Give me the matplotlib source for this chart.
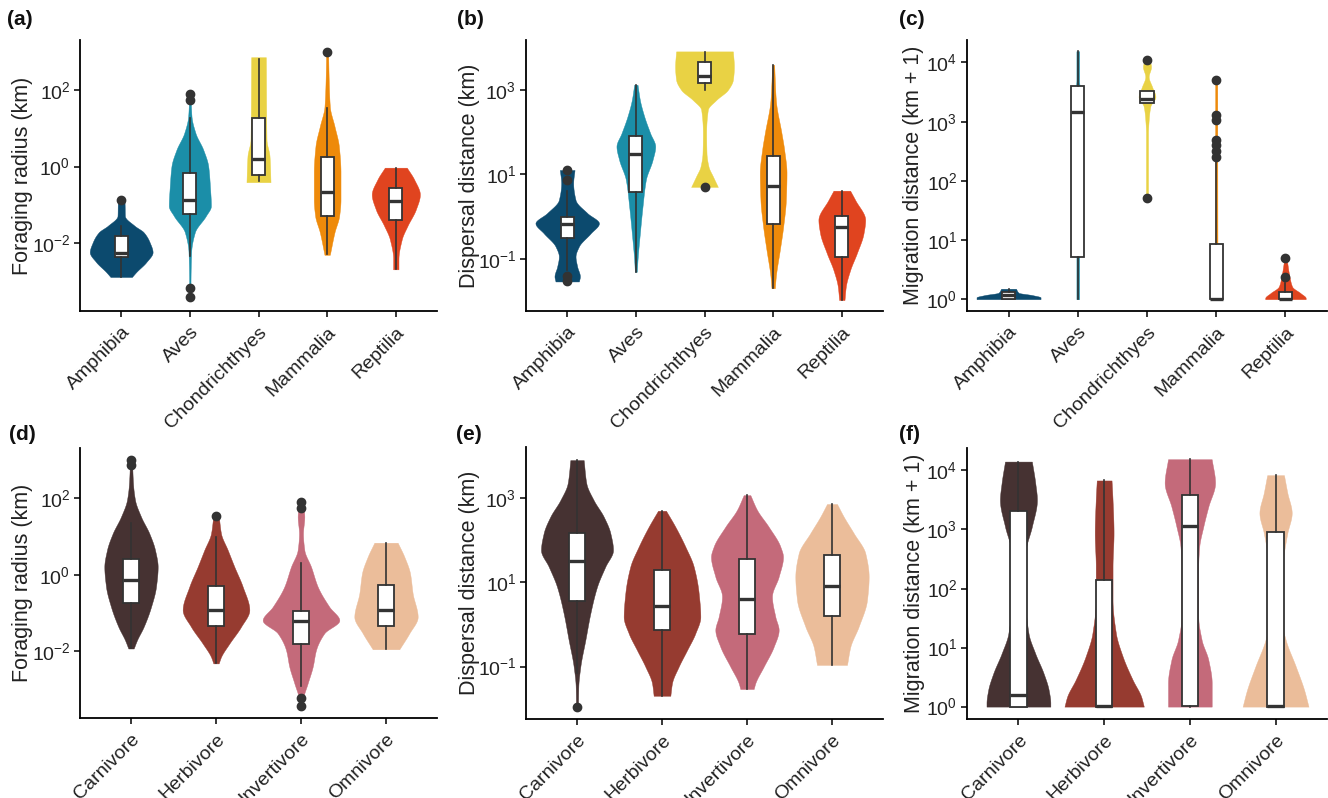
import numpy as np
import matplotlib
matplotlib.use("Agg")
import matplotlib.pyplot as plt

plt.rcParams['font.family'] = ['Liberation Sans', 'DejaVu Sans']
plt.rcParams['mathtext.fontset'] = 'custom'
plt.rcParams['mathtext.rm'] = 'Liberation Sans'
plt.rcParams['mathtext.it'] = 'Liberation Sans:italic'
plt.rcParams['mathtext.bf'] = 'Liberation Sans:bold'

# ---------------- data (all values in log10 units) ----------------
classes = ["Amphibia", "Aves", "Chondrichthyes", "Mammalia", "Reptilia"]
diets = ["Carnivore", "Herbivore", "Invertivore", "Omnivore"]

# (a) Foraging radius by class
fa_q1 = [-2.37, -1.23, -0.23, -1.29, -1.39]
fa_med = [-2.26, -0.88, 0.20, -0.67, -0.90]
fa_q3 = [-1.83, -0.16, 1.26, 0.25, -0.55]
fa_lo = [-2.89, -2.33, -0.38, -2.29, -2.68]
fa_hi = [-1.55, 1.27, 2.82, 1.53, -0.05]
fa_out = [[-0.88], [1.89, 1.74, -3.19, -3.41], [], [2.99], []]
fa_dens_y = [
    [-2.89, -2.76, -2.50, -2.24, -1.98, -1.72, -1.55, -1.29, -0.94, -0.86],
    [-3.41, -3.11, -2.24, -1.72, -1.29, -1.03, -0.51, 0.01, 0.44, 0.87, 1.31, 1.65, 1.89],
    [-0.41, 0.27, 0.70, 2.86],
    [-2.31, -1.72, -1.29, -0.86, -0.16, 0.53, 1.05, 1.57, 2.5, 2.99],
    [-2.69, -2.42, -1.90, -1.55, -1.12, -0.73, -0.34, -0.03],
]
fa_dens_w = [
    [32, 45, 75, 94, 85, 67, 40, 11, 10, 5],
    [2, 2, 4, 15, 48, 63, 60, 55, 40, 17, 5, 3, 2],
    [36, 33, 24, 22],
    [8, 22, 36, 40, 40, 35, 22, 8, 4, 3],
    [8, 8, 18, 35, 60, 72, 55, 33],
]

# (b) Dispersal distance by class
db_q1 = [-0.51, 0.57, 3.16, -0.18, -0.95]
db_med = [-0.18, 1.48, 3.33, 0.71, -0.25]
db_q3 = [-0.02, 1.91, 3.66, 1.44, 0.00]
db_lo = [-1.27, -1.31, 3.00, -1.69, -1.98]
db_hi = [0.60, 3.12, 3.89, 3.59, 0.61]
db_out = [[1.10, 0.87, -1.40, -1.52], [], [0.70], [], []]
db_dens_y = [
    [-1.54, -1.42, -1.19, -0.95, -0.71, -0.40, -0.16, 0.08, 0.39, 0.79, 1.10],
    [-1.31, -1.03, -0.40, 0.24, 0.87, 1.34, 1.66, 1.97, 2.37, 2.76, 3.12],
    [0.70, 0.95, 1.18, 1.50, 1.97, 2.53, 2.76, 3.00, 3.24, 3.55, 3.91],
    [-1.70, -1.42, -0.79, -0.24, 0.39, 1.03, 1.58, 1.97, 2.76, 3.59],
    [-1.98, -1.66, -1.27, -0.87, -0.40, -0.08, 0.39, 0.61],
]
db_dens_w = [
    [35, 38, 30, 25, 35, 70, 95, 60, 25, 18, 22],
    [3, 5, 12, 20, 30, 50, 58, 43, 25, 12, 5],
    [40, 25, 12, 6, 5, 10, 35, 70, 85, 88, 85],
    [5, 8, 20, 30, 38, 40, 33, 25, 8, 3],
    [8, 12, 25, 45, 65, 70, 40, 25],
]

# (c) Migration distance (km + 1) by class
mc_q1 = [0.01, 0.71, 3.32, 0.00, 0.00]
mc_med = [0.065, 3.17, 3.38, 0.00, 0.01]
mc_q3 = [0.12, 3.61, 3.51, 0.93, 0.115]
mc_lo = [0.00, 0.00, 3.32, 0.00, 0.00]
mc_hi = [0.18, 4.19, 3.51, 2.32, 0.28]
mc_out = [[], [], [4.05, 1.71], [3.70, 3.11, 3.03, 2.69, 2.61, 2.51, 2.41], [0.70, 0.37]]
mc_dens_y = [
    [0.0, 0.03, 0.069, 0.108, 0.176],
    [0.0, 3.30, 3.55, 3.70, 4.19],
    [1.68, 1.79, 2.80, 3.03, 3.26, 3.42, 3.59, 3.76, 3.93, 4.07],
    [0.0, 0.10, 0.30, 3.71],
    [0.0, 0.02, 0.10, 0.21, 0.38, 0.70],
]
mc_dens_w = [
    [95, 95, 70, 30, 22],
    [4, 4, 6, 4, 4],
    [4, 3, 3, 5, 10, 25, 15, 5, 12, 5],
    [15, 8, 4, 3],
    [60, 60, 45, 20, 12, 3],
]

# (d) Foraging radius by diet
fd_q1 = [-0.73, -1.34, -1.82, -1.34]
fd_med = [-0.14, -0.92, -1.21, -0.92]
fd_q3 = [0.41, -0.29, -0.94, -0.27]
fd_lo = [-1.93, -2.32, -2.90, -1.95]
fd_hi = [1.35, 0.98, 0.30, 0.84]
fd_out = [[3.00, 2.87], [1.54], [1.91, 1.76, -3.22, -3.44], []]
fd_dens_y = [
    [-1.93, -1.71, -1.36, -0.84, -0.31, 0.21, 0.65, 1.08, 1.52, 1.96, 2.39, 3.00],
    [-2.32, -2.15, -1.80, -1.36, -0.92, -0.31, 0.21, 0.65, 1.08, 1.56],
    [-3.44, -3.28, -2.84, -2.41, -1.97, -1.53, -1.19, -0.84, -0.31, 0.21, 0.65, 1.08, 1.52, 1.91],
    [-1.95, -1.53, -1.10, -0.49, 0.04, 0.47, 0.84],
]
fd_dens_w = [
    [8, 18, 38, 60, 75, 80, 72, 55, 30, 12, 6, 3],
    [8, 15, 40, 75, 100, 80, 55, 35, 15, 8],
    [3, 5, 20, 35, 45, 70, 115, 85, 50, 30, 10, 6, 10, 5],
    [40, 70, 95, 80, 72, 55, 35],
]

# (e) Dispersal distance by diet
de_q1 = [0.56, -0.13, -0.23, 0.20]
de_med = [1.49, 0.44, 0.60, 0.91]
de_q3 = [2.16, 1.29, 1.56, 1.64]
de_lo = [-1.16, -1.69, -1.53, -0.96]
de_hi = [3.89, 2.69, 3.06, 2.85]
de_out = [[-1.95], [], [], []]
de_dens_y = [
    [-1.95, -1.47, -1.00, -0.37, 0.26, 0.89, 1.37, 1.76, 2.16, 2.55, 2.94, 3.34, 3.89],
    [-1.69, -1.39, -1.00, -0.61, -0.21, 0.18, 0.74, 1.37, 1.84, 2.31, 2.69],
    [-1.53, -1.39, -1.00, -0.53, -0.13, 0.18, 0.66, 1.13, 1.60, 1.84, 2.31, 2.71, 3.06],
    [-0.96, -0.53, -0.05, 0.58, 1.13, 1.68, 2.16, 2.55, 2.85],
]
de_dens_w = [
    [3, 4, 10, 25, 40, 60, 85, 108, 100, 80, 50, 28, 20],
    [25, 30, 50, 75, 100, 115, 110, 95, 70, 40, 12],
    [20, 25, 50, 80, 95, 85, 75, 95, 108, 100, 65, 30, 10],
    [45, 55, 80, 105, 110, 100, 65, 35, 15],
]

# (f) Migration distance (km + 1) by diet
mf_q1 = [0.00, 0.00, 0.01, 0.00]
mf_med = [0.19, 0.01, 3.06, 0.01]
mf_q3 = [3.32, 2.15, 3.58, 2.95]
mf_lo = [0.00, 0.00, 0.00, 0.00]
mf_hi = [4.15, 3.83, 4.19, 3.92]
mf_out = [[], [], [], []]
mf_dens_y = [
    [0.0, 0.06, 0.28, 0.56, 0.90, 1.24, 1.81, 2.37, 2.66, 3.05, 3.50, 3.79, 4.15],
    [0.0, 0.17, 0.45, 0.85, 1.24, 1.81, 2.37, 2.94, 3.50, 3.83],
    [0.0, 0.40, 0.79, 1.13, 1.53, 2.37, 2.71, 3.05, 3.39, 3.79, 4.19],
    [0.0, 0.28, 0.68, 1.13, 1.53, 2.09, 2.49, 2.94, 3.28, 3.62, 3.92],
]
mf_dens_w = [
    [95, 95, 90, 75, 50, 30, 20, 18, 22, 40, 55, 50, 40],
    [118, 110, 85, 55, 35, 25, 25, 28, 25, 22],
    [65, 65, 55, 35, 25, 25, 28, 40, 55, 75, 65],
    [98, 85, 60, 30, 15, 15, 22, 35, 48, 35, 25],
]

# ---------------- styling ----------------
class_colors = ['#0c4a6e', '#1b8ea8', '#e9d244', '#ee8a0a', '#e0441f']
diet_colors = ['#463232', '#963b30', '#c46a7a', '#ebbd9a']
DARK = '#333333'
W, H = 1328, 798


def pchip(x, y, xn):
    x = np.asarray(x, float)
    y = np.asarray(y, float)
    h = np.diff(x)
    d = np.diff(y) / h
    m = np.zeros_like(y)
    m[0] = d[0]
    m[-1] = d[-1]
    for k in range(1, len(x) - 1):
        if d[k - 1] * d[k] <= 0:
            m[k] = 0.0
        else:
            w1 = 2 * h[k] + h[k - 1]
            w2 = h[k] + 2 * h[k - 1]
            m[k] = (w1 + w2) / (w1 / d[k - 1] + w2 / d[k])
    idx = np.clip(np.searchsorted(x, xn) - 1, 0, len(x) - 2)
    t = (xn - x[idx]) / h[idx]
    h00 = 2 * t**3 - 3 * t**2 + 1
    h10 = t**3 - 2 * t**2 + t
    h01 = -2 * t**3 + 3 * t**2
    h11 = t**3 - t**2
    return h00 * y[idx] + h10 * h[idx] * m[idx] + h01 * y[idx + 1] + h11 * h[idx] * m[idx + 1]


def px_axes(l, t, r, b):
    return fig.add_axes([l / W, 1 - b / H, (r - l) / W, (b - t) / H])


def draw_panel(ax, cats, colors, dens_y, dens_w, q1, med, q3, lo, hi, out,
               wscale, ylim, yticks, ylabel, xlim, label_x):
    n = len(cats)
    for i in range(n):
        yk = np.asarray(dens_y[i], float)
        wk = np.asarray(dens_w[i], float)
        yy = np.linspace(yk[0], yk[-1], 300)
        ww = np.clip(pchip(yk, wk, yy), 0.5, None) * wscale
        ax.fill_betweenx(10 ** yy, i - ww, i + ww, color=colors[i], lw=0.3,
                         edgecolor=colors[i], zorder=1)
    stats = []
    for i in range(n):
        stats.append(dict(med=10 ** med[i], q1=10 ** q1[i], q3=10 ** q3[i],
                          whislo=10 ** lo[i], whishi=10 ** hi[i],
                          fliers=10 ** np.asarray(out[i], float)))
    ax.bxp(stats, positions=list(range(n)), widths=0.19, patch_artist=True,
           showcaps=False, showfliers=True,
           boxprops=dict(facecolor='white', edgecolor=DARK, linewidth=1.3),
           medianprops=dict(color=DARK, linewidth=2.4, solid_capstyle='butt'),
           whiskerprops=dict(color=DARK, linewidth=1.2),
           flierprops=dict(marker='o', markerfacecolor=DARK, markeredgecolor=DARK,
                           markersize=6))
    ax.set_yscale('log')
    ax.set_ylim(10 ** ylim[0], 10 ** ylim[1])
    ax.set_xlim(*xlim)
    ax.set_yticks([10.0 ** k for k in yticks])
    ax.set_yticklabels([r'$10^{%d}$' % k for k in yticks])
    ax.yaxis.set_minor_locator(matplotlib.ticker.NullLocator())
    ax.set_xticks(list(range(n)))
    ax.set_xticklabels(cats, rotation=45, ha='right', rotation_mode='anchor')
    ax.tick_params(axis='both', labelsize=14, length=4, width=1.1, color='black',
                   labelcolor='#222222', pad=3)
    ax.tick_params(axis='x', pad=5)
    for s in ['top', 'right']:
        ax.spines[s].set_visible(False)
    for s in ['left', 'bottom']:
        ax.spines[s].set_linewidth(1.3)
    ax.set_ylabel(ylabel, fontsize=15.5, color='#222222')
    ax.yaxis.set_label_coords(label_x, 0.5)


fig = plt.figure(figsize=(W / 100, H / 100), dpi=100)

top_w = 1 / 205.5
bot_w = 1 / 255.0
xl5 = (-0.6, 4.6)
xl4 = (-0.6, 3.6)

axa = px_axes(80, 40, 437, 311)
draw_panel(axa, classes, class_colors, fa_dens_y, fa_dens_w, fa_q1, fa_med, fa_q3,
           fa_lo, fa_hi, fa_out, top_w, (-3.78, 3.31), [-2, 0, 2],
           'Foraging radius (km)', xl5, -0.132)
axb = px_axes(526, 40, 883, 311)
draw_panel(axb, classes, class_colors, db_dens_y, db_dens_w, db_q1, db_med, db_q3,
           db_lo, db_hi, db_out, top_w, (-2.24, 4.18), [-1, 1, 3],
           'Dispersal distance (km)', xl5, -0.129)
axc = px_axes(967, 40, 1327, 311)
draw_panel(axc, classes, class_colors, mc_dens_y, mc_dens_w, mc_q1, mc_med, mc_q3,
           mc_lo, mc_hi, mc_out, top_w, (-0.20, 4.38), [0, 1, 2, 3, 4],
           'Migration distance (km + 1)', xl5, -0.119)
axd = px_axes(80, 448, 437, 718)
draw_panel(axd, diets, diet_colors, fd_dens_y, fd_dens_w, fd_q1, fd_med, fd_q3,
           fd_lo, fd_hi, fd_out, bot_w, (-3.75, 3.32), [-2, 0, 2],
           'Foraging radius (km)', xl4, -0.132)
axe = px_axes(526, 447, 883, 719)
draw_panel(axe, diets, diet_colors, de_dens_y, de_dens_w, de_q1, de_med, de_q3,
           de_lo, de_hi, de_out, bot_w, (-2.24, 4.20), [-1, 1, 3],
           'Dispersal distance (km)', xl4, -0.129)
axf = px_axes(967, 448, 1327, 719)
draw_panel(axf, diets, diet_colors, mf_dens_y, mf_dens_w, mf_q1, mf_med, mf_q3,
           mf_lo, mf_hi, mf_out, bot_w, (-0.21, 4.38), [0, 1, 2, 3, 4],
           'Migration distance (km + 1)', xl4, -0.116)

for txt, x, y in [('(a)', 7, 10), ('(b)', 457, 10), ('(c)', 899, 10),
                  ('(d)', 9, 425), ('(e)', 456, 425), ('(f)', 899, 425)]:
    fig.text(x / W, 1 - y / H, txt, fontsize=15, fontweight='bold', va='top',
             ha='left', color='#111111')

fig.savefig('out.png', dpi=100)
